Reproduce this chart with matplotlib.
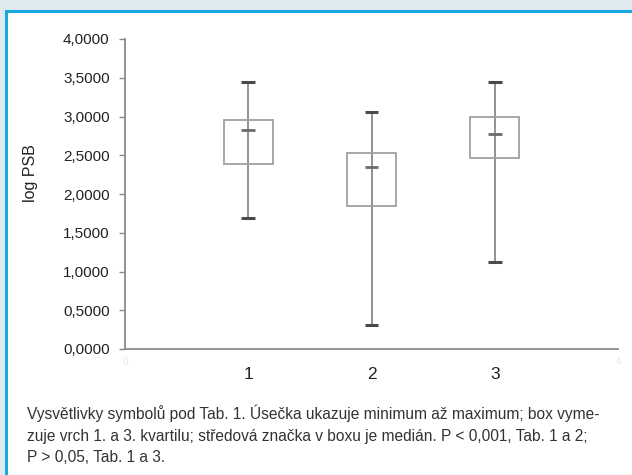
import matplotlib
matplotlib.use("Agg")
import matplotlib.pyplot as plt
from matplotlib.patches import Rectangle
from matplotlib.ticker import FuncFormatter

# values
groups = [1, 2, 3]
mins = [1.69, 0.31, 1.12]
q1 = [2.39, 1.85, 2.47]
medians = [2.82, 2.35, 2.77]
q3 = [2.955, 2.53, 2.99]
maxs = [3.45, 3.06, 3.45]
yticks = [0, 0.5, 1, 1.5, 2, 2.5, 3, 3.5, 4]
caption = ("Vysvětlivky symbolů pod Tab. 1. Úsečka ukazuje minimum až maximum; box vyme-\n"
           "zuje vrch 1. a 3. kvartilu; středová značka v boxu je medián. P < 0,001, Tab. 1 a 2;\n"
           "P > 0,05, Tab. 1 a 3.")

plt.rcParams['font.family'] = ['Liberation Sans', 'DejaVu Sans']

fig = plt.figure(figsize=(6.32, 4.75), dpi=100)
fig.patch.set_facecolor('#dfeaf0')

# white panel with blue frame
panel = Rectangle((6 / 632, -0.05), 1.1, 1 - 11 / 475 + 0.05, transform=fig.transFigure,
                  facecolor='white', edgecolor='#1aa8e2', linewidth=2.2, zorder=-5)
fig.patches.append(panel)

ax = fig.add_axes([125 / 632, 1 - 349 / 475, (618 - 125) / 632, (349 - 39) / 475])
ax.set_zorder(2)
ax.set_facecolor('none')

box_w = 0.4
cap_w = 0.11
ax.vlines(groups, mins, maxs, color='#8a8a8a', linewidth=1.3, zorder=2)
for g, lo, hi in zip(groups, q1, q3):
    ax.add_patch(Rectangle((g - box_w / 2, lo), box_w, hi - lo, facecolor='none',
                           edgecolor='#a0a0a0', linewidth=1.3, zorder=3))
ax.hlines(maxs, [g - cap_w / 2 for g in groups], [g + cap_w / 2 for g in groups],
          color='#4a4a4a', linewidth=2.2, zorder=4)
ax.hlines(mins, [g - cap_w / 2 for g in groups], [g + cap_w / 2 for g in groups],
          color='#4a4a4a', linewidth=2.2, zorder=4)
ax.hlines(medians, [g - cap_w / 2 for g in groups], [g + cap_w / 2 for g in groups],
          color='#6a6a6a', linewidth=2.0, zorder=4)

ax.set_xlim(0, 4)
ax.set_ylim(0, 4)
ax.set_yticks(yticks)
ax.yaxis.set_major_formatter(FuncFormatter(lambda v, p: f"{v:.4f}".replace('.', ',')))
ax.tick_params(axis='y', length=4, width=1, color='#888888', labelsize=11,
               labelcolor='#222222', pad=7)
ax.set_xticks([0, 1, 2, 3, 4])
ax.set_xticklabels(['0', '', '', '', '4'], fontsize=7, color='#e6e6e6')
ax.tick_params(axis='x', length=0, pad=6)
for g in groups:
    ax.text(g, -0.23, str(g), ha='center', va='top', fontsize=12.5, color='#222222')

for s in ['top', 'right']:
    ax.spines[s].set_visible(False)
for s in ['left', 'bottom']:
    ax.spines[s].set_color('#8a8a8a')
    ax.spines[s].set_linewidth(1.3)

fig.text(31 / 632, 1 - 173 / 475, 'log PSB', rotation=90, ha='center', va='center',
         fontsize=11.5, color='#222222')

fig.text(27 / 632, 1 - 405 / 475, caption, ha='left', va='top', fontsize=11.2,
         color='#333333', linespacing=1.5)

fig.savefig('out.png', dpi=100)
